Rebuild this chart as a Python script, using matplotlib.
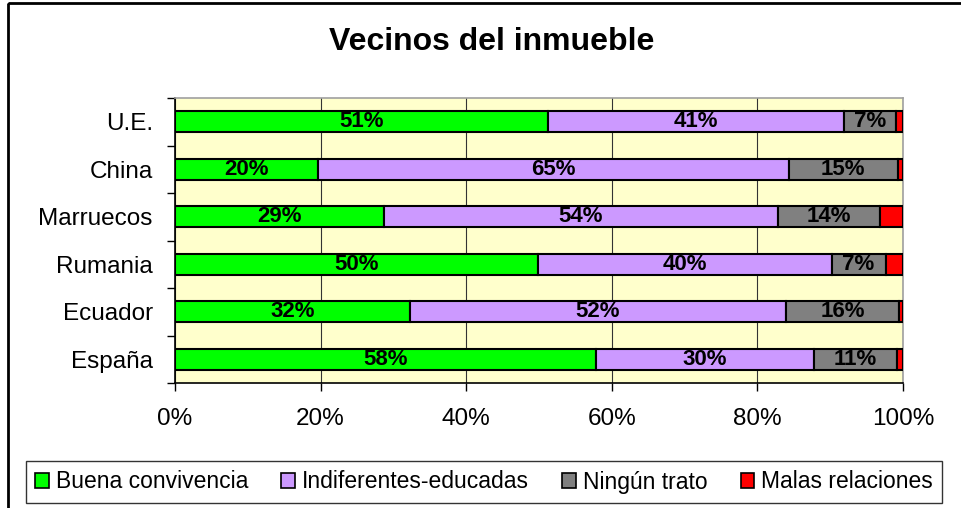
import matplotlib
matplotlib.use("Agg")
import matplotlib.pyplot as plt
from matplotlib.patches import Rectangle
from matplotlib.ticker import FixedLocator, PercentFormatter

plt.rcParams['font.family'] = ['Liberation Sans', 'DejaVu Sans']

categories = ["España", "Ecuador", "Rumania", "Marruecos", "China", "U.E."]
series_names = ["Buena convivencia", "Indiferentes-educadas", "Ningún trato", "Malas relaciones"]
buena = [57.8, 32.3, 49.9, 28.7, 19.7, 51.2]
indiferentes = [30.0, 51.6, 40.3, 54.1, 64.6, 40.7]
ningun = [11.4, 15.6, 7.4, 14.0, 15.0, 7.1]
malas = [0.8, 0.5, 2.4, 3.2, 0.7, 1.0]
colors = ["#00FF00", "#CC99FF", "#808080", "#FF0000"]
x_ticks = [0, 20, 40, 60, 80, 100]

W, H = 961, 508
fig = plt.figure(figsize=(W / 100, H / 100), dpi=100)
fig.patch.set_facecolor("white")

# outer chart border
fig.patches.append(Rectangle((8 / W, 1 - 3 / H), 2, -1, transform=fig.transFigure,
                             fill=False, edgecolor="black", linewidth=2, zorder=0))

ax = fig.add_axes([175 / W, 1 - 383 / H, (903 - 175) / W, (383 - 98) / H])
ax.set_facecolor("#FFFFCC")

ypos = list(range(len(categories)))
left = [0.0] * len(categories)
all_series = [buena, indiferentes, ningun, malas]
for si, (vals, name, col) in enumerate(zip(all_series, series_names, colors)):
    ax.barh(ypos, vals, left=left, height=0.45, color=col, edgecolor="black",
            linewidth=1.5, label=name, zorder=3)
    if si < 3:
        for y, l, v in zip(ypos, left, vals):
            ax.text(l + v / 2, y, f"{round(v)}%", ha="center", va="center",
                    fontsize=16, fontweight="bold", color="black", zorder=4)
    left = [a + b for a, b in zip(left, vals)]

ax.set_xlim(0, 100)
ax.set_ylim(-0.5, len(categories) - 0.5)
ax.xaxis.set_major_locator(FixedLocator(x_ticks))
ax.xaxis.set_major_formatter(PercentFormatter(decimals=0))
ax.set_yticks(ypos)
ax.set_yticklabels(categories)
ax.yaxis.set_minor_locator(FixedLocator([i - 0.5 for i in range(len(categories) + 1)]))
ax.tick_params(axis="y", which="major", length=0, pad=16, labelsize=17.5)
ax.tick_params(axis="y", which="minor", length=6, width=1, color="black")
ax.tick_params(axis="x", which="major", length=6, width=1, color="black",
               labelsize=17.5, pad=12)
ax.grid(axis="x", color="#333333", linewidth=0.8, zorder=1)
ax.set_axisbelow(True)
for s in ["left", "bottom"]:
    ax.spines[s].set_color("black")
    ax.spines[s].set_linewidth(1.2)
for s in ["top", "right"]:
    ax.spines[s].set_color("#A0A0A0")
    ax.spines[s].set_linewidth(1.2)

fig.text(492 / W, 1 - 42 / H, "Vecinos del inmueble", ha="center", va="center",
         fontsize=23, fontweight="bold")

handles, labels = ax.get_legend_handles_labels()
leg = fig.legend(handles, labels, loc="center", bbox_to_anchor=(484 / W, 1 - 482 / H),
                 ncol=4, fontsize=16.5, frameon=True, fancybox=False, edgecolor="black",
                 handlelength=0.6, handleheight=0.6, handletextpad=0.3,
                 columnspacing=1.45, borderpad=0.4)
leg.get_frame().set_linewidth(1.0)
for h in leg.legend_handles:
    h.set_linewidth(1.2)

fig.savefig("out.png", dpi=100, facecolor="white")
